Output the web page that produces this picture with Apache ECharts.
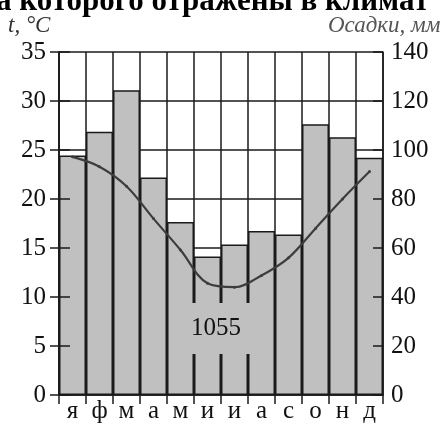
<!DOCTYPE html>
<html><head><meta charset="utf-8">
<script src="https://cdn.jsdelivr.net/npm/echarts@6/dist/echarts.min.js"></script>
<style>html,body{margin:0;padding:0;background:#fff}#c{width:448px;height:424px}</style>
</head><body><div id="c"></div>
<script>
const months = ['я','ф','м','а','м','и','и','а','с','о','н','д'];
const precip = [97.8,107.4,124.4,88.8,70.6,56.5,61.4,66.9,65.5,110.5,105.2,96.8];
const temps = [24.3,23.3,21.3,18.0,14.8,11.4,11.0,12.2,14.0,17.0,20.0,22.8];
const annualTotal = '1055';
const titleText = 'а которого отражены в климат';
const tName = 't, °C';
const pName = 'Осадки, мм';

const FONT = 'Liberation Serif';
const chart = echarts.init(document.getElementById('c'), null, {renderer:'canvas'});
const blk = '#1a1a1a';
chart.setOption({
  animation:false,
  backgroundColor:'#fff',
  grid:{left:59,right:65,top:52,bottom:25},
  xAxis:{type:'category',data:months,boundaryGap:true,
    axisLine:{lineStyle:{color:blk,width:1.5}},
    axisTick:{show:true,length:9,lineStyle:{color:blk,width:1.5}},
    splitLine:{show:true,interval:0,lineStyle:{color:blk,width:1.5}},
    axisLabel:{color:'#111',fontFamily:FONT,fontSize:25,margin:4,interval:0}},
  yAxis:[
    {type:'value',position:'left',min:0,max:35,interval:5,
      axisLine:{show:true,lineStyle:{color:blk,width:1.5}},
      axisTick:{show:true,length:9,lineStyle:{color:blk,width:1.5}},
      splitLine:{show:true,lineStyle:{color:blk,width:1.5}},
      axisLabel:{color:'#111',fontFamily:FONT,fontSize:25,margin:13}},
    {type:'value',position:'right',min:0,max:140,interval:20,z:10,
      axisLine:{show:true,lineStyle:{color:blk,width:1.5}},
      axisTick:{show:true,inside:true,length:10,lineStyle:{color:blk,width:1.5}},
      splitLine:{show:false},
      axisLabel:{color:'#111',fontFamily:FONT,fontSize:25,margin:8}},
    {type:'value',position:'left',min:0,max:35,interval:5,z:10,
      axisLine:{show:true,lineStyle:{color:blk,width:1.5}},
      axisTick:{show:true,inside:true,length:11,lineStyle:{color:blk,width:1.5}},
      splitLine:{show:false},axisLabel:{show:false}}
  ],
  series:[
    {type:'bar',data:precip,yAxisIndex:1,barCategoryGap:'0%',z:2,
      itemStyle:{color:'#c0c0c0',borderColor:blk,borderWidth:1.5}},
    {type:'line',data:temps,yAxisIndex:0,smooth:0.35,z:5,
      symbol:'circle',symbolSize:3,
      lineStyle:{color:'#3d3d3d',width:2.2},itemStyle:{color:'#3d3d3d'}}
  ],
  graphic:[
    {type:'text',z:100,left:170,top:303,style:{text:annualTotal,font:'25px "Liberation Serif"',fill:'#111',
      backgroundColor:'#c0c0c0',padding:[13,21,13,21]}},
    {type:'text',z:100,left:-4,top:-14,style:{text:titleText,font:'bold 31px "Liberation Serif"',fill:'#000'}},
    {type:'text',z:100,left:8,top:14,style:{text:tName,font:'italic 23px "Liberation Serif"',fill:'#333'}},
    {type:'text',z:100,left:328,top:14,style:{text:pName,font:'italic 23px "Liberation Serif"',fill:'#555'}}
  ]
});
</script></body></html>
